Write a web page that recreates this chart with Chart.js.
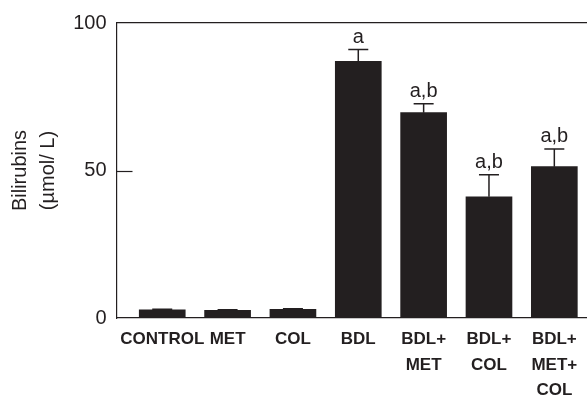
<!DOCTYPE html>
<html>
<head>
<meta charset="utf-8">
<script src="https://cdn.jsdelivr.net/npm/chart.js@4"></script>
<style>
  html, body { margin: 0; padding: 0; background: #fff; }
  #wrap { width: 587px; height: 398px; }
</style>
</head>
<body>
<div id="wrap"><canvas id="barChart" width="587" height="398"></canvas></div>
<script>
// groups along the x axis (multi-line labels)
const groups = [['CONTROL'], ['MET'], ['COL'], ['BDL'], ['BDL+', 'MET'], ['BDL+', 'COL'], ['BDL+', 'MET+', 'COL']];
// mean bilirubin, umol/L
const bilirubin = [2.8, 2.6, 2.9, 87.0, 69.6, 41.1, 51.3];
// upper error (SEM)
const sem = [0.2, 0.2, 0.2, 4.0, 3.0, 7.5, 6.0];
// significance marks above the bars
const marks = ['', '', '', 'a', 'a,b', 'a,b', 'a,b'];
const yTicks = [0, 50, 100];

const ink = '#231f20';
const fontFamily = '"Liberation Sans", Arial, Helvetica, sans-serif';

// error bars, significance letters and the inward tick at 50
const extras = {
    id: 'extras',
    afterDatasetsDraw(chart) {
        const ctx = chart.ctx;
        const y = chart.scales.y;
        const bars = chart.getDatasetMeta(0).data;
        ctx.save();
        ctx.strokeStyle = ink;
        ctx.fillStyle = ink;
        ctx.lineWidth = 1.5;
        bars.forEach((bar, i) => {
            const capY = y.getPixelForValue(bilirubin[i] + sem[i]);
            ctx.beginPath();
            ctx.moveTo(bar.x, bar.y);
            ctx.lineTo(bar.x, capY);
            ctx.moveTo(bar.x - 10, capY);
            ctx.lineTo(bar.x + 10, capY);
            ctx.stroke();
            if (marks[i]) {
                ctx.font = '20px ' + fontFamily;
                ctx.textAlign = 'center';
                ctx.textBaseline = 'alphabetic';
                ctx.fillText(marks[i], bar.x, capY - 6.5);
            }
        });
        // inward tick mark at 50
        const t = Math.round(y.getPixelForValue(50)) + 0.5;
        ctx.lineWidth = 1.2;
        ctx.beginPath();
        ctx.moveTo(chart.chartArea.left, t);
        ctx.lineTo(chart.chartArea.left + 16, t);
        ctx.stroke();
        ctx.restore();
    }
};

const ctxBar = document.getElementById('barChart').getContext('2d');

new Chart(ctxBar, {
    type: 'bar',
    data: {
        datasets: [{
            data: bilirubin.map((v, i) => ({ x: i, y: v })),
            backgroundColor: ink,
            borderWidth: 0,
            barThickness: 46
        }]
    },
    options: {
        responsive: false,
        animation: false,
        devicePixelRatio: 1,
        layout: { padding: { top: 23, right: 0, bottom: 0, left: 0 } },
        plugins: { legend: { display: false }, tooltip: { enabled: false } },
        scales: {
            x: {
                type: 'linear',
                offset: false,
                min: -0.7,
                max: 6.5,
                afterBuildTicks: (scale) => { scale.ticks = groups.map((_, i) => ({ value: i })); },
                afterFit: (scale) => { scale.height = 80; },
                grid: { display: false, drawTicks: false },
                border: { display: true, color: ink, width: 1.2 },
                ticks: {
                    autoSkip: false,
                    maxRotation: 0,
                    minRotation: 0,
                    padding: 9,
                    color: ink,
                    font: { family: fontFamily, size: 17, weight: 'bold', lineHeight: 1.5 },
                    callback: (value) => groups[value] || ''
                }
            },
            xTop: {
                type: 'linear',
                position: 'top',
                offset: false,
                min: -0.7,
                max: 6.5,
                grid: { display: false, drawTicks: false },
                border: { display: true, color: ink, width: 1.2 },
                ticks: { display: false }
            },
            y: {
                min: 0,
                max: 100,
                afterBuildTicks: (scale) => { scale.ticks = yTicks.map(v => ({ value: v })); },
                afterFit: (scale) => { scale.width = 116.5; },
                grid: { display: false, drawTicks: false },
                border: { display: true, color: ink, width: 1.2 },
                ticks: {
                    padding: 10,
                    color: ink,
                    font: { family: fontFamily, size: 20 }
                },
                title: {
                    display: true,
                    text: ['Bilirubins', '(\u00b5mol/ L)'],
                    color: ink,
                    font: { family: fontFamily, size: 20, lineHeight: 1.4 },
                    padding: { top: 6, bottom: 0 }
                }
            }
        }
    },
    plugins: [extras]
});
</script>
</body>
</html>
